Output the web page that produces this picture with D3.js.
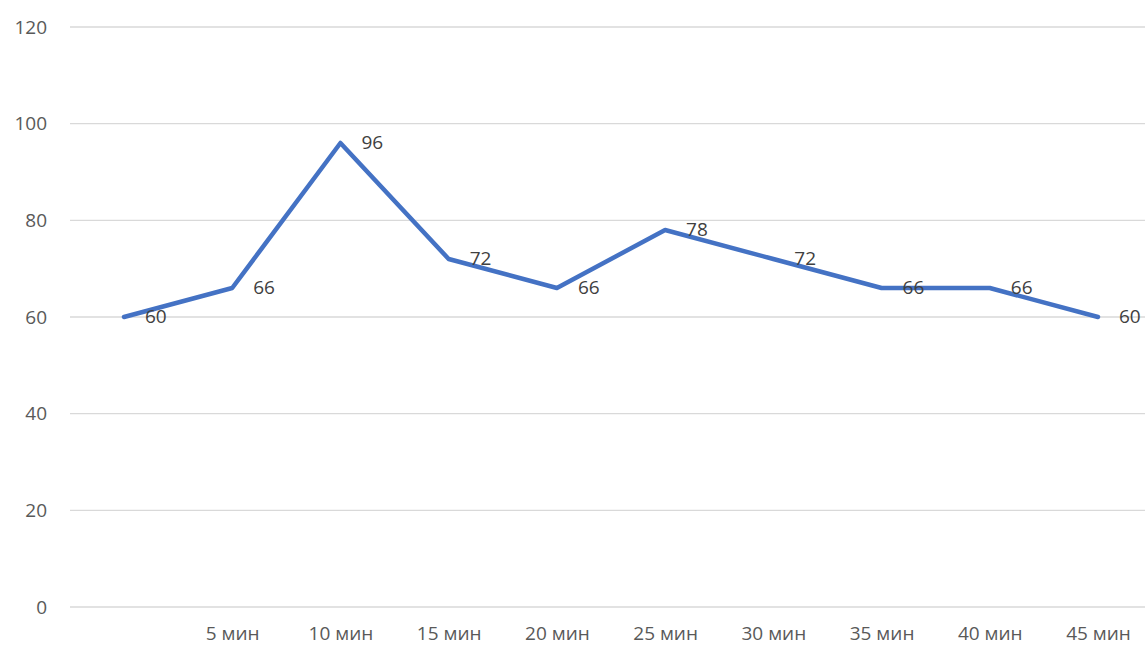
<!DOCTYPE html>
<html>
<head>
<meta charset="utf-8">
<script src="https://cdn.jsdelivr.net/npm/d3@7"></script>
<style>
  body { margin: 0; background: #fff; }
  svg { display: block; font-family: "Open Sans", "Noto Sans", sans-serif; }
</style>
</head>
<body>
<svg width="1145" height="648"></svg>
<script>
var categories = ["", "5 мин", "10 мин", "15 мин", "20 мин", "25 мин", "30 мин", "35 мин", "40 мин", "45 мин"];
var values = [60, 66, 96, 72, 66, 78, 72, 66, 66, 60];
var yTicks = [0, 20, 40, 60, 80, 100, 120];

var svg = d3.select("svg");

var scaleX = d3.scalePoint()
               .domain(d3.range(categories.length))
               .range([124, 1098]);

var scaleY = d3.scaleLinear()
               .domain([0, 120])
               .range([607, 27]);

// gridlines
svg.append("g")
    .selectAll("line")
    .data(yTicks)
    .enter()
    .append("line")
    .attr("x1", 70)
    .attr("x2", 1145)
    .attr("y1", function(d) { return scaleY(d) })
    .attr("y2", function(d) { return scaleY(d) })
    .attr("stroke", "#d9d9d9")
    .attr("stroke-width", 1.3);

// y axis labels
var yAxis = svg.append("g")
    .attr("transform", "translate(47,0)")
    .call(d3.axisLeft(scaleY).tickValues(yTicks).tickSize(0).tickPadding(0));
yAxis.select(".domain").remove();
yAxis.selectAll("text")
    .attr("fill", "#595959")
    .style("font-size", "19px")
    .style("font-family", "'Open Sans', sans-serif");

// x axis labels
var xAxis = svg.append("g")
    .attr("transform", "translate(0,626)")
    .call(d3.axisBottom(scaleX).tickFormat(function(i) { return categories[i] }).tickSize(0).tickPadding(0));
xAxis.select(".domain").remove();
xAxis.selectAll("text")
    .attr("fill", "#595959")
    .style("font-size", "19px")
    .style("font-family", "'Open Sans', sans-serif");

var line = d3.line()
    .x(function(d, i) { return scaleX(i) })
    .y(function(d) { return scaleY(d) });

svg.append("path")
    .datum(values)
    .attr("d", line)
    .attr("fill", "none")
    .attr("stroke", "#4472c4")
    .attr("stroke-width", 4.5)
    .attr("stroke-linejoin", "round")
    .attr("stroke-linecap", "round");

svg.append("g")
    .selectAll("text")
    .data(values)
    .enter()
    .append("text")
    .attr("x", function(d, i) { return scaleX(i) + 21 })
    .attr("y", function(d) { return scaleY(d) - 1 })
    .attr("dy", "0.35em")
    .attr("fill", "#404040")
    .style("font-size", "19px")
    .text(function(d) { return d });
</script>
</body>
</html>
